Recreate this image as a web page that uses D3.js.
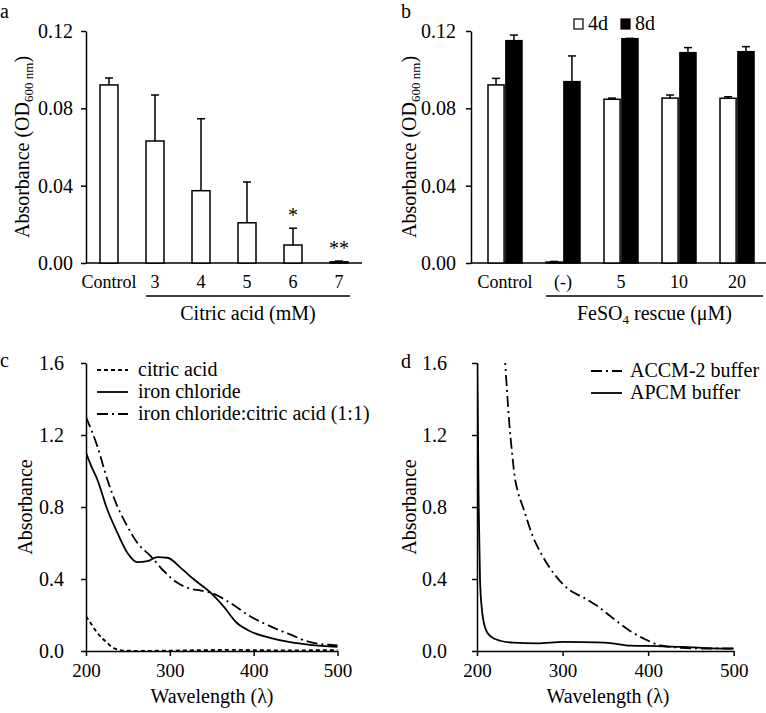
<!DOCTYPE html>
<html>
<head>
<meta charset="utf-8">
<script src="https://cdn.jsdelivr.net/npm/d3@7"></script>
<style>
  body { margin: 0; background: #fff; }
  svg { font-family: "Liberation Serif", "Times New Roman", serif; }
</style>
</head>
<body>
<svg id="chart" width="766" height="713"></svg>
<script>
// ---- panel a : citric acid dose ----
const citricCats = ["Control", "3", "4", "5", "6", "7"];
const citricMean = [0.0921, 0.0631, 0.0374, 0.0208, 0.0093, 0.0006];
const citricErr = [0.0036, 0.0238, 0.0372, 0.0211, 0.0087, 0.0004];
const citricStars = ["", "", "", "", "*", "**"];

// ---- panel b : FeSO4 rescue ----
const rescueCats = ["Control", "(-)", "5", "10", "20"];
const rescueDays = ["4d", "8d"];
const rescue4d = [0.0921, 0.0005, 0.0847, 0.0853, 0.0852];
const rescue4dErr = [0.0034, 0.0003, 0.0006, 0.0016, 0.0008];
const rescue8d = [0.1150, 0.0938, 0.1160, 0.1088, 0.1093];
const rescue8dErr = [0.0029, 0.0133, 0.0002, 0.0026, 0.0026];
const barTicks = [0, 0.04, 0.08, 0.12];

// ---- panel c : spectra ----
const citricWl = [200, 207, 213.5, 220, 225.4, 230, 235.4, 243, 260, 300, 340, 380, 420, 460, 500];
const citricAbs = [0.193, 0.145, 0.101, 0.068, 0.045, 0.025, 0.012, 0.003, 0.001, 0.002, 0.005, 0.006, 0.004, 0.004, 0.005];
const ironWl = [200, 206, 213.5, 225.4, 237.4, 249.3, 261.2, 273.2, 285.1, 297.1, 313, 328.9, 348, 363.8, 379.8, 395.7, 419.6, 443.4, 467.3, 500];
const ironAbs = [1.101, 1.03, 0.953, 0.786, 0.657, 0.546, 0.494, 0.499, 0.521, 0.518, 0.462, 0.397, 0.327, 0.249, 0.157, 0.11, 0.073, 0.049, 0.034, 0.023];
const mixWl = [200, 213.5, 225.4, 237.4, 249.3, 261.2, 277.2, 293.1, 309, 325, 337, 350, 371.8, 395.7, 419.6, 443.4, 467.3, 500];
const mixAbs = [1.30, 1.138, 0.953, 0.804, 0.693, 0.601, 0.527, 0.443, 0.379, 0.345, 0.336, 0.322, 0.268, 0.193, 0.138, 0.092, 0.049, 0.031];

// ---- panel d : buffers ----
const accmWl = [232.3, 235, 238, 241, 244, 248, 253.7, 265.4, 277, 292.6, 308, 324.6, 340.3, 355.9, 379.4, 397, 414.5, 438, 461.4, 500];
const accmAbs = [1.65, 1.45, 1.25, 1.1, 0.97, 0.88, 0.80, 0.635, 0.524, 0.413, 0.339, 0.297, 0.251, 0.193, 0.11, 0.064, 0.031, 0.018, 0.014, 0.014];
const apcmWl = [200.2, 202, 203.5, 205.5, 209.4, 215.2, 227, 242.6, 270, 301.2, 340, 356, 379.4, 410, 441, 468, 500];
const apcmAbs = [1.65, 0.8, 0.4, 0.242, 0.131, 0.084, 0.057, 0.046, 0.042, 0.051, 0.048, 0.044, 0.03, 0.027, 0.023, 0.016, 0.013];
const specTicksY = [0, 0.4, 0.8, 1.2, 1.6];
const specTicksX = [200, 300, 400, 500];

const svg = d3.select("#chart");
const SW = 1.5;

function styleAxis(g, size) {
    g.selectAll("path, line").attr("stroke", "#000").attr("stroke-width", SW);
    g.selectAll("text").attr("font-size", size).attr("fill", "#000")
        .attr("font-family", "'Liberation Serif', 'Times New Roman', serif");
}

function panelLetter(x, y, t) {
    svg.append("text").attr("x", x).attr("y", y).attr("font-size", 20).text(t);
}

function odLabel(x, y) {
    const t = svg.append("text")
        .attr("transform", `translate(${x},${y}) rotate(-90)`)
        .attr("text-anchor", "middle").attr("font-size", 20);
    t.append("tspan").text("Absorbance (OD");
    t.append("tspan").attr("dy", 4).attr("font-size", 13).text("600 nm");
    t.append("tspan").attr("dy", -4).text(")");
}

// ================= panel a =================
const ya = d3.scaleLinear().domain([0, 0.12]).range([263, 31]);
const xa = d3.scaleBand().domain(citricCats).range([86, 362])
    .paddingInner(0.609).paddingOuter(0.304);

svg.append("g").attr("transform", "translate(86,0)")
    .call(d3.axisLeft(ya).tickValues(barTicks).tickFormat(d3.format(".2f"))
        .tickSize(5).tickSizeOuter(0).tickPadding(8))
    .call(g => styleAxis(g, 20));

svg.append("line").attr("x1", 86).attr("x2", 362).attr("y1", ya(0)).attr("y2", ya(0))
    .attr("stroke", "#000").attr("stroke-width", SW);

const ga = svg.append("g");
citricCats.forEach((c, i) => {
    const cx = xa(c) + xa.bandwidth() / 2;
    const top = ya(citricMean[i] + citricErr[i]);
    ga.append("line").attr("x1", cx).attr("x2", cx).attr("y1", ya(citricMean[i])).attr("y2", top)
        .attr("stroke", "#000").attr("stroke-width", SW);
    ga.append("line").attr("x1", cx - 4).attr("x2", cx + 4).attr("y1", top).attr("y2", top)
        .attr("stroke", "#000").attr("stroke-width", SW);
    ga.append("rect").attr("x", xa(c)).attr("y", ya(citricMean[i]))
        .attr("width", xa.bandwidth()).attr("height", ya(0) - ya(citricMean[i]))
        .attr("fill", "#fff").attr("stroke", "#000").attr("stroke-width", SW);
    ga.append("text").attr("x", cx).attr("y", 288).attr("text-anchor", "middle")
        .attr("font-size", 18).text(c);
    if (citricStars[i]) {
        ga.append("text").attr("x", cx).attr("y", top - 6).attr("text-anchor", "middle")
            .attr("font-size", 20).text(citricStars[i]);
    }
});
const ua0 = xa("3"), ua1 = xa("7") + xa.bandwidth() + 2;
svg.append("line").attr("x1", ua0).attr("x2", ua1).attr("y1", 296).attr("y2", 296)
    .attr("stroke", "#000").attr("stroke-width", SW);
svg.append("text").attr("x", (ua0 + ua1) / 2).attr("y", 320).attr("text-anchor", "middle")
    .attr("font-size", 20).text("Citric acid (mM)");
odLabel(29, 147);
panelLetter(0, 18, "a");

// ================= panel b =================
const yb = d3.scaleLinear().domain([0, 0.12]).range([263, 31]);
const xb = d3.scaleBand().domain(rescueCats).range([471, 771])
    .paddingInner(0.414).paddingOuter(0.293);
const xbSub = d3.scaleBand().domain(rescueDays).range([0, xb.bandwidth()]).paddingInner(0.1);

svg.append("g").attr("transform", "translate(471,0)")
    .call(d3.axisLeft(yb).tickValues(barTicks).tickFormat(d3.format(".2f"))
        .tickSize(5).tickSizeOuter(0).tickPadding(10))
    .call(g => styleAxis(g, 20));

svg.append("line").attr("x1", 471).attr("x2", 766).attr("y1", yb(0)).attr("y2", yb(0))
    .attr("stroke", "#000").attr("stroke-width", SW);

const series = [
    { key: "4d", vals: rescue4d, errs: rescue4dErr, fill: "#fff" },
    { key: "8d", vals: rescue8d, errs: rescue8dErr, fill: "#000" }
];
const gb = svg.append("g");
rescueCats.forEach((c, i) => {
    series.forEach(s => {
        const x0 = xb(c) + xbSub(s.key);
        const cx = x0 + xbSub.bandwidth() / 2;
        const top = yb(s.vals[i] + s.errs[i]);
        gb.append("line").attr("x1", cx).attr("x2", cx).attr("y1", yb(s.vals[i])).attr("y2", top)
            .attr("stroke", "#000").attr("stroke-width", SW);
        gb.append("line").attr("x1", cx - 4).attr("x2", cx + 4).attr("y1", top).attr("y2", top)
            .attr("stroke", "#000").attr("stroke-width", SW);
        gb.append("rect").attr("x", x0).attr("y", yb(s.vals[i]))
            .attr("width", xbSub.bandwidth()).attr("height", yb(0) - yb(s.vals[i]))
            .attr("fill", s.fill).attr("stroke", "#000").attr("stroke-width", SW);
    });
    gb.append("text").attr("x", xb(c) + xb.bandwidth() / 2).attr("y", 288)
        .attr("text-anchor", "middle").attr("font-size", 18).text(c);
});
const ub0 = xb("(-)"), ub1 = xb("20") + xb.bandwidth() + 9;
svg.append("line").attr("x1", ub0).attr("x2", ub1).attr("y1", 296).attr("y2", 296)
    .attr("stroke", "#000").attr("stroke-width", SW);
const tb = svg.append("text").attr("x", (ub0 + ub1) / 2).attr("y", 320)
    .attr("text-anchor", "middle").attr("font-size", 20);
tb.append("tspan").text("FeSO");
tb.append("tspan").attr("dy", 4).attr("font-size", 13).text("4");
tb.append("tspan").attr("dy", -4).text(" rescue (\u03bcM)");
odLabel(416, 147);
panelLetter(401, 18, "b");

// legend b
const legB = svg.append("g");
[{ x: 574, fill: "#fff", t: "4d" }, { x: 621, fill: "#000", t: "8d" }].forEach(d => {
    legB.append("rect").attr("x", d.x).attr("y", 19).attr("width", 9).attr("height", 10)
        .attr("fill", d.fill).attr("stroke", "#000").attr("stroke-width", 1.2);
    legB.append("text").attr("x", d.x + 14).attr("y", 30).attr("font-size", 20).text(d.t);
});

// ================= spectra panels =================
const dashes = { dash: "4,3", solid: null, dashdot: "11,4,2,4" };

function spectrumPanel(id, x0, x1, yPad, series, legend) {
    const x = d3.scaleLinear().domain([200, 500]).range([x0, x1]);
    const y = d3.scaleLinear().domain([0, 1.6]).range([651, 363]);

    svg.append("g").attr("transform", `translate(${x0},0)`)
        .call(d3.axisLeft(y).tickValues(specTicksY).tickFormat(d3.format(".1f"))
            .tickSize(5).tickSizeOuter(0).tickPadding(yPad))
        .call(g => styleAxis(g, 20));
    svg.append("g").attr("transform", "translate(0,651)")
        .call(d3.axisBottom(x).tickValues(specTicksX).tickFormat(d3.format("d"))
            .tickSize(5).tickSizeOuter(0).tickPadding(8))
        .call(g => styleAxis(g, 19));

    svg.append("clipPath").attr("id", id).append("rect")
        .attr("x", x0).attr("y", 363).attr("width", x1 - x0 + 2).attr("height", 288);

    const line = d3.line().x(d => x(d[0])).y(d => y(d[1])).curve(d3.curveMonotoneX);
    series.forEach(s => {
        const pts = s.wl.map((w, i) => [w, s.abs[i]]);
        svg.append("path").datum(pts).attr("d", line)
            .attr("clip-path", `url(#${id})`)
            .attr("fill", "none").attr("stroke", "#000").attr("stroke-width", 1.8)
            .attr("stroke-dasharray", dashes[s.style]);
    });

    legend.items.forEach((it, i) => {
        const ly = legend.y0 + i * 22;
        svg.append("line").attr("x1", legend.lx0).attr("x2", legend.lx1).attr("y1", ly).attr("y2", ly)
            .attr("stroke", "#000").attr("stroke-width", 1.8).attr("stroke-dasharray", dashes[it.style]);
        svg.append("text").attr("x", legend.tx).attr("y", ly + 6).attr("font-size", 20).text(it.label);
    });
}

spectrumPanel("clipC", 86, 337.5, 17, [
    { wl: citricWl, abs: citricAbs, style: "dash" },
    { wl: ironWl, abs: ironAbs, style: "solid" },
    { wl: mixWl, abs: mixAbs, style: "dashdot" }
], {
    lx0: 97, lx1: 128, tx: 138, y0: 370,
    items: [
        { label: "citric acid", style: "dash" },
        { label: "iron chloride", style: "solid" },
        { label: "iron chloride:citric acid (1:1)", style: "dashdot" }
    ]
});
svg.append("text").attr("transform", "translate(32,507) rotate(-90)").attr("text-anchor", "middle")
    .attr("font-size", 20).text("Absorbance");
svg.append("text").attr("x", 212).attr("y", 703).attr("text-anchor", "middle")
    .attr("font-size", 20).text("Wavelength (\u03bb)");
panelLetter(0, 367, "c");

spectrumPanel("clipD", 477, 733.7, 25, [
    { wl: accmWl, abs: accmAbs, style: "dashdot" },
    { wl: apcmWl, abs: apcmAbs, style: "solid" }
], {
    lx0: 591, lx1: 622, tx: 630, y0: 371,
    items: [
        { label: "ACCM-2 buffer", style: "dashdot" },
        { label: "APCM buffer", style: "solid" }
    ]
});
svg.append("text").attr("transform", "translate(416,507) rotate(-90)").attr("text-anchor", "middle")
    .attr("font-size", 20).text("Absorbance");
svg.append("text").attr("x", 608).attr("y", 703).attr("text-anchor", "middle")
    .attr("font-size", 20).text("Wavelength (\u03bb)");
panelLetter(401, 368, "d");
</script>
</body>
</html>
